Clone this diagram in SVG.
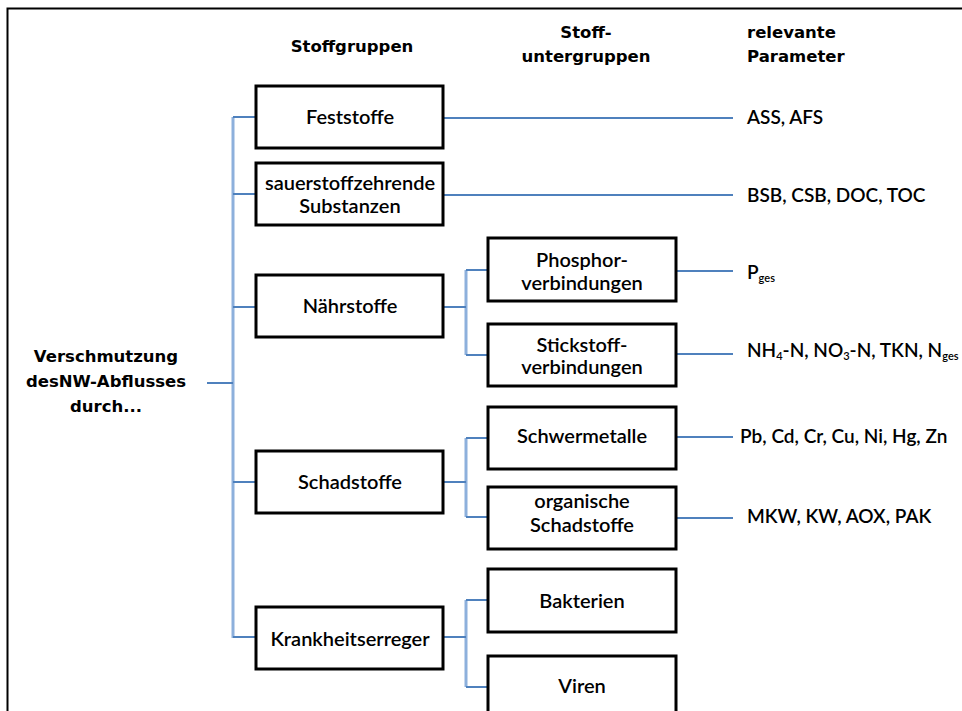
<svg xmlns="http://www.w3.org/2000/svg" width="962" height="711" viewBox="0 0 962 711">
<style>
text{font-family:Lato,"Liberation Sans",sans-serif;font-size:20px;font-weight:600;fill:#000}
.h{font-family:"DejaVu Sans",Verdana,sans-serif;font-weight:bold;font-size:16.5px}
.c{text-anchor:middle}
.p{font-size:19px}
.b{fill:#fff;stroke:#000;stroke-width:3}
.l{stroke:#4f81bd;stroke-width:2;fill:none}
.v{stroke:#8db0dc;stroke-width:3;fill:none}
.s{font-size:11px}
</style>
<rect x="7.5" y="8.5" width="970" height="720" fill="#fff" stroke="#000" stroke-width="2"/>
<g id="headers">
<text class="h c" x="352" y="52">Stoffgruppen</text>
<text class="h c" x="586" y="38">Stoff-</text>
<text class="h c" x="586" y="62">untergruppen</text>
<text class="h" x="747" y="38">relevante</text>
<text class="h" x="747" y="62">Parameter</text>
</g>
<g id="connectors">
<path class="v" d="M233 117V638"/>
<path class="l" d="M207 383H233M233 117H255M233 194H255M233 307H255M233 482H255M233 637H255"/>
<path class="l" d="M443 118H733M443 195H733"/>
<path class="v" d="M466 270V355M466 438V517M466 600V687"/>
<path class="l" d="M443 307H466M466 270H487M466 355H487M443 482H466M466 438H487M466 517H487M443 637H466M466 600H487M466 687H487"/>
<path class="l" d="M676 271H733M676 354H733M676 437H733M676 518H733"/>
</g>
<g id="root">
<text class="h c" x="106" y="362">Verschmutzung</text>
<text class="h c" x="106" y="387">desNW-Abflusses</text>
<text class="h c" x="106" y="412">durch...</text>
</g>
<g id="feststoffe"><rect class="b" x="256" y="86" width="187" height="62"/><text class="c" x="350" y="124">Feststoffe</text></g>
<g id="sauerstoff"><rect class="b" x="256" y="163" width="187" height="62"/><text class="c" x="350" y="190">sauerstoffzehrende</text><text class="c" x="350" y="213">Substanzen</text></g>
<g id="naehrstoffe"><rect class="b" x="256" y="275" width="187" height="62"/><text class="c" x="350" y="313">Nährstoffe</text></g>
<g id="schadstoffe"><rect class="b" x="256" y="451" width="187" height="62"/><text class="c" x="350" y="489">Schadstoffe</text></g>
<g id="krankheitserreger"><rect class="b" x="256" y="607" width="187" height="62"/><text class="c" x="350" y="646">Krankheitserreger</text></g>
<g id="phosphor"><rect class="b" x="488" y="238" width="188" height="63"/><text class="c" x="582" y="267">Phosphor-</text><text class="c" x="582" y="290">verbindungen</text></g>
<g id="stickstoff"><rect class="b" x="488" y="324" width="188" height="62"/><text class="c" x="582" y="352">Stickstoff-</text><text class="c" x="582" y="374">verbindungen</text></g>
<g id="schwermetalle"><rect class="b" x="488" y="407" width="188" height="62"/><text class="c" x="582" y="443">Schwermetalle</text></g>
<g id="organische"><rect class="b" x="488" y="487" width="188" height="62"/><text class="c" x="582" y="508">organische</text><text class="c" x="582" y="532">Schadstoffe</text></g>
<g id="bakterien"><rect class="b" x="488" y="569" width="188" height="63"/><text class="c" x="582" y="608">Bakterien</text></g>
<g id="viren"><rect class="b" x="488" y="656" width="188" height="62"/><text class="c" x="582" y="693">Viren</text></g>
<g id="params">
<text class="p" x="747" y="124">ASS, AFS</text>
<text class="p" x="747" y="202">BSB, CSB, DOC, TOC</text>
<text class="p" x="747" y="279">P<tspan class="s" dy="3">ges</tspan></text>
<text class="p" x="747" y="357">NH<tspan class="s" dy="3">4</tspan><tspan dy="-3">-N, NO</tspan><tspan class="s" dy="3">3</tspan><tspan dy="-3">-N, TKN, N</tspan><tspan class="s" dy="3">ges</tspan></text>
<text class="p" x="740" y="443">Pb, Cd, Cr, Cu, Ni, Hg, Zn</text>
<text class="p" x="747" y="523">MKW, KW, AOX, PAK</text>
</g>
</svg>
